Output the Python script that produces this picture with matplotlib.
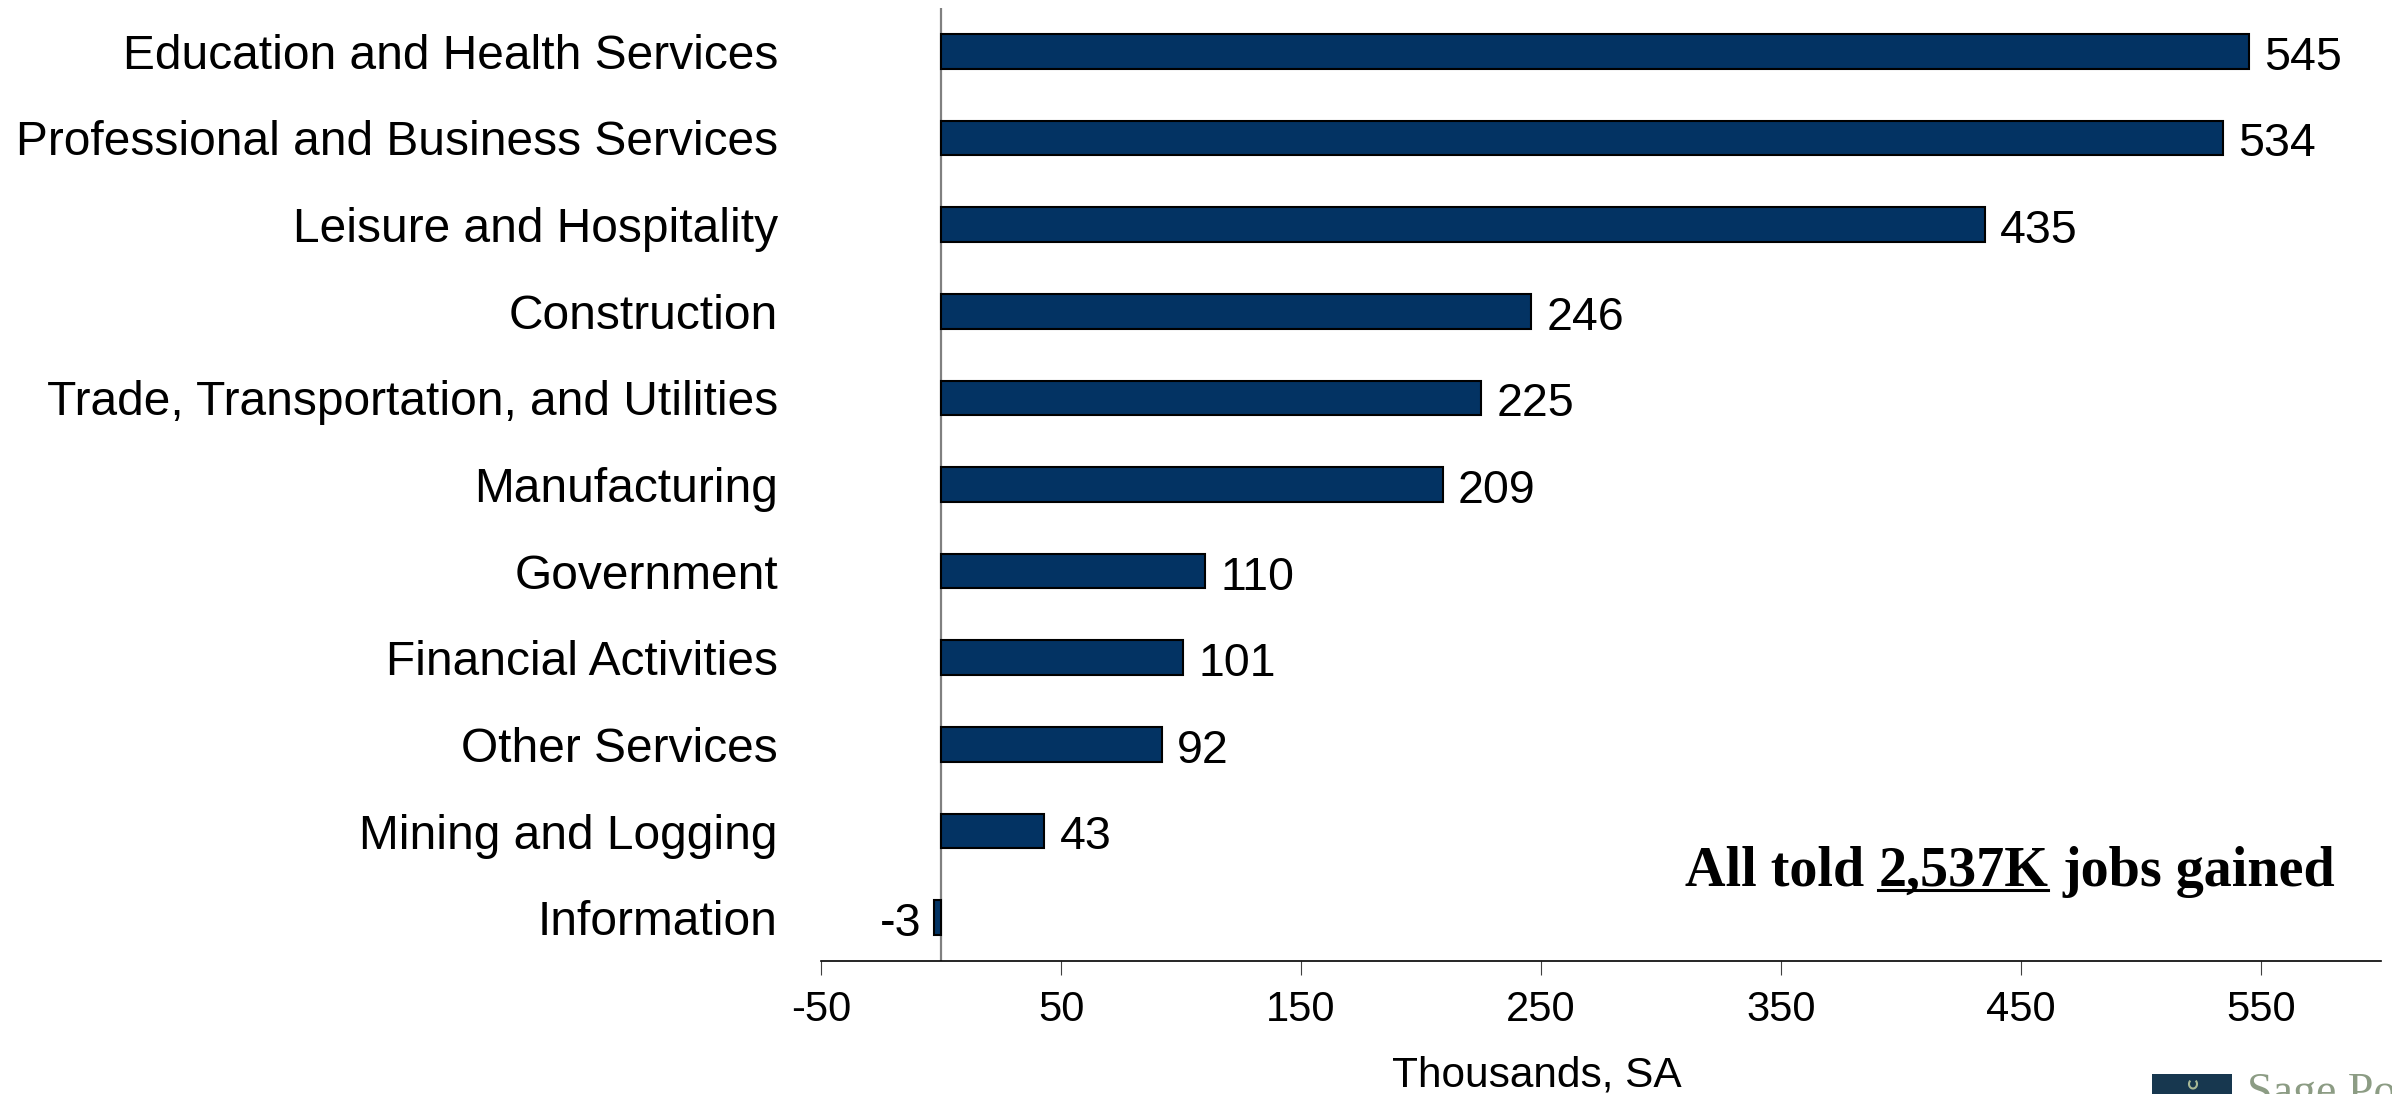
import matplotlib
matplotlib.use("Agg")
import matplotlib.pyplot as plt
from matplotlib.patches import Rectangle, Arc
from matplotlib.lines import Line2D

categories = ["Education and Health Services", "Professional and Business Services",
              "Leisure and Hospitality", "Construction",
              "Trade, Transportation, and Utilities", "Manufacturing", "Government",
              "Financial Activities", "Other Services", "Mining and Logging", "Information"]
values = [545, 534, 435, 246, 225, 209, 110, 101, 92, 43, -3]
xticks = [-50, 50, 150, 250, 350, 450, 550]
xlabel = "Thousands, SA"
note_parts = ["All told", "2,537K", "jobs gained"]

W, H, DPI = 2392, 1094, 100
plt.rcParams['font.family'] = ['Liberation Sans', 'DejaVu Sans']
fig = plt.figure(figsize=(W / DPI, H / DPI), dpi=DPI)
ax = fig.add_axes([821 / W, 1 - 961 / H, (2381 - 821) / W, (961 - 8) / H])

bar_color = '#033363'
ypos = list(range(len(categories)))
ax.barh(ypos, values, height=0.4, color=bar_color, edgecolor='black', linewidth=1.5, zorder=3)
ax.axvline(0, color='#808080', linewidth=1.6, zorder=2)

ax.set_xlim(-50, 600)
ax.set_ylim(len(categories) - 0.5, -0.5)
ax.set_yticks(ypos)
ax.set_yticklabels(categories, fontsize=34.5)
ax.tick_params(axis='y', length=0, pad=31)
ax.set_xticks(xticks)
ax.set_xticklabels([str(t) for t in xticks], fontsize=30)
ax.tick_params(axis='x', length=10, width=0.8, color='#404040', pad=11, direction='out')
for s in ['left', 'top', 'right']:
    ax.spines[s].set_visible(False)
ax.spines['bottom'].set_linewidth(1.2)
ax.spines['bottom'].set_color('black')

for y, v in zip(ypos, values):
    if v >= 0:
        ax.annotate(str(v), xy=(v, y), xytext=(11, -1), textcoords='offset points',
                    ha='left', va='center_baseline', fontsize=33.5)
    else:
        ax.annotate(str(v), xy=(v, y), xytext=(-9, -1), textcoords='offset points',
                    ha='right', va='center_baseline', fontsize=33.5)

fig.text(1537 / W, 1 - 1087 / H, xlabel, ha='center', va='baseline', fontsize=30.5)

# annotation
fs = 40.4
sp = 0.25 * fs
kw = dict(fontsize=fs, fontweight='bold', family=['Liberation Serif', 'DejaVu Serif'], color='black')
t1 = fig.text(1685 / W, 1 - 886 / H, note_parts[0], ha='left', va='baseline', **kw)
t2 = ax.annotate(note_parts[1], xy=(1, 0), xycoords=t1, xytext=(sp, 0), textcoords='offset points',
                 ha='left', va='bottom', annotation_clip=False, **kw)
t3 = ax.annotate(note_parts[2], xy=(1, 0), xycoords=t2, xytext=(sp, 0), textcoords='offset points',
                 ha='left', va='bottom', annotation_clip=False, **kw)
fig.canvas.draw()
r = fig.canvas.get_renderer()
bb2 = t2.get_window_extent(r)
yb = H - 886 - 4
fig.add_artist(Line2D([bb2.x0 / W, bb2.x1 / W], [yb / H, yb / H], color='black', linewidth=2.2,
                      transform=fig.transFigure))

# logo fragment (cut off by the bottom edge, as in the source)
fig.add_artist(Rectangle((2152 / W, 0), 80 / W, 20 / H, transform=fig.transFigure,
                         facecolor='#17374f', edgecolor='none'))
fig.add_artist(Arc((2193 / W, 10 / H), 8 / W, 9 / H, theta1=110, theta2=430,
                   transform=fig.transFigure, color='#a8b896', linewidth=1.5))
fig.text(2247 / W, 1 - 1105 / H, "Sage Po", ha='left', va='baseline', fontsize=33,
         family=['Liberation Serif', 'DejaVu Serif'], color='#8c9c84')

fig.savefig("out.png", dpi=DPI, facecolor='white')
